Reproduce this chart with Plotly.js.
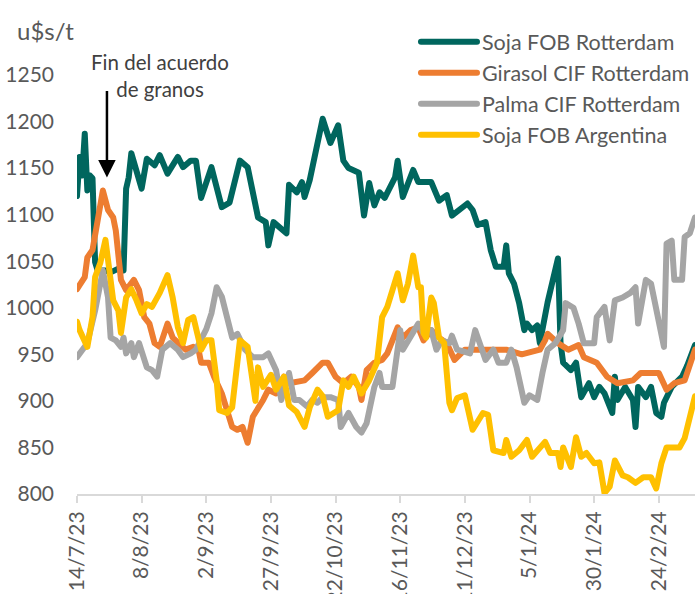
<!DOCTYPE html>
<html>
<head>
<meta charset="utf-8">
<script src="https://cdn.plot.ly/plotly-3.0.1.min.js"></script>
<style>
  body { margin: 0; padding: 0; background: #fff; }
  #chart { width: 695px; height: 594px; }
  path.js-line { stroke-linejoin: round !important; stroke-linecap: round !important; }
</style>
</head>
<body>
<div id="chart"></div>
<script>
// ---- Data ----
const seriesNames = ["Soja FOB Rotterdam", "Girasol CIF Rotterdam", "Palma CIF Rotterdam", "Soja FOB Argentina"];

const sojaRotDates = ["2023-07-14","2023-07-15","2023-07-16","2023-07-17","2023-07-18","2023-07-19","2023-07-20","2023-07-21","2023-07-22","2023-07-25","2023-07-27","2023-07-30","2023-08-01","2023-08-02","2023-08-03","2023-08-04","2023-08-08","2023-08-10","2023-08-13","2023-08-15","2023-08-18","2023-08-22","2023-08-24","2023-08-27","2023-08-29","2023-08-31","2023-09-04","2023-09-08","2023-09-11","2023-09-15","2023-09-18","2023-09-21","2023-09-22","2023-09-25","2023-09-26","2023-09-28","2023-10-03","2023-10-04","2023-10-07","2023-10-09","2023-10-10","2023-10-12","2023-10-17","2023-10-20","2023-10-23","2023-10-25","2023-10-27","2023-10-31","2023-11-02","2023-11-04","2023-11-06","2023-11-08","2023-11-10","2023-11-14","2023-11-15","2023-11-17","2023-11-21","2023-11-23","2023-11-28","2023-12-01","2023-12-04","2023-12-06","2023-12-12","2023-12-14","2023-12-16","2023-12-19","2023-12-21","2023-12-23","2023-12-26","2023-12-27","2023-12-28","2023-12-30","2024-01-01","2024-01-03","2024-01-04","2024-01-06","2024-01-08","2024-01-09","2024-01-12","2024-01-16","2024-01-17","2024-01-18","2024-01-21","2024-01-23","2024-01-24","2024-01-25","2024-01-28","2024-01-30","2024-02-01","2024-02-03","2024-02-06","2024-02-07","2024-02-08","2024-02-11","2024-02-14","2024-02-15","2024-02-16","2024-02-19","2024-02-21","2024-02-23","2024-02-25","2024-02-26","2024-02-29","2024-03-04","2024-03-06","2024-03-08","2024-03-09"];
const sojaRotVals = [1120,1162,1142,1187,1126,1142,1139,1049,1040,1040,1038,1042,1040,1128,1140,1166,1128,1160,1153,1164,1144,1162,1151,1158,1158,1118,1151,1108,1113,1158,1151,1115,1097,1092,1067,1092,1080,1132,1124,1135,1119,1137,1203,1177,1196,1158,1150,1145,1099,1134,1110,1124,1118,1140,1158,1119,1148,1135,1135,1115,1121,1099,1112,1105,1089,1092,1062,1044,1044,1067,1037,1026,1005,976,983,976,981,962,1006,1053,962,941,933,941,926,904,919,904,915,908,887,926,901,915,901,872,915,904,915,887,883,898,915,926,938,955,960];

const girasolDates = ["2023-07-14","2023-07-17","2023-07-18","2023-07-20","2023-07-22","2023-07-24","2023-07-26","2023-07-28","2023-07-29","2023-07-31","2023-08-02","2023-08-05","2023-08-07","2023-08-09","2023-08-11","2023-08-13","2023-08-15","2023-08-18","2023-08-20","2023-08-22","2023-08-25","2023-08-28","2023-08-30","2023-08-31","2023-09-03","2023-09-05","2023-09-08","2023-09-10","2023-09-12","2023-09-14","2023-09-16","2023-09-18","2023-09-20","2023-09-24","2023-09-26","2023-09-29","2023-10-02","2023-10-04","2023-10-08","2023-10-10","2023-10-13","2023-10-17","2023-10-19","2023-10-22","2023-10-25","2023-10-28","2023-10-31","2023-11-01","2023-11-03","2023-11-06","2023-11-09","2023-11-11","2023-11-15","2023-11-17","2023-11-20","2023-11-23","2023-11-25","2023-11-28","2023-12-01","2023-12-04","2023-12-07","2023-12-11","2023-12-19","2023-12-27","2024-01-02","2024-01-09","2024-01-11","2024-01-12","2024-01-16","2024-01-20","2024-01-24","2024-01-26","2024-01-31","2024-02-04","2024-02-08","2024-02-14","2024-02-17","2024-02-24","2024-02-27","2024-03-01","2024-03-05","2024-03-08","2024-03-09"];
const girasolVals = [1020,1033,1054,1062,1094,1126,1105,1097,1083,1030,1019,1030,1019,990,983,962,958,983,968,962,955,958,955,941,941,926,908,890,872,869,872,855,883,901,912,908,926,919,922,922,930,941,941,926,919,926,915,901,933,941,944,951,979,968,976,979,965,976,968,962,944,955,955,955,950,955,965,972,962,955,960,947,941,926,919,922,930,930,912,919,922,951,955];

const palmaDates = ["2023-07-14","2023-07-18","2023-07-21","2023-07-24","2023-07-26","2023-07-27","2023-07-29","2023-07-31","2023-08-01","2023-08-02","2023-08-04","2023-08-05","2023-08-07","2023-08-09","2023-08-10","2023-08-12","2023-08-14","2023-08-16","2023-08-19","2023-08-22","2023-08-24","2023-08-27","2023-08-29","2023-09-02","2023-09-04","2023-09-06","2023-09-08","2023-09-10","2023-09-12","2023-09-14","2023-09-17","2023-09-20","2023-09-24","2023-09-26","2023-09-29","2023-10-01","2023-10-04","2023-10-06","2023-10-08","2023-10-11","2023-10-13","2023-10-15","2023-10-17","2023-10-20","2023-10-23","2023-10-24","2023-10-27","2023-10-30","2023-11-01","2023-11-03","2023-11-06","2023-11-08","2023-11-09","2023-11-13","2023-11-16","2023-11-17","2023-11-20","2023-11-23","2023-11-25","2023-11-28","2023-11-30","2023-12-02","2023-12-05","2023-12-06","2023-12-08","2023-12-13","2023-12-15","2023-12-17","2023-12-19","2023-12-22","2023-12-24","2023-12-27","2023-12-29","2023-12-31","2024-01-03","2024-01-05","2024-01-08","2024-01-10","2024-01-12","2024-01-15","2024-01-18","2024-01-19","2024-01-22","2024-01-24","2024-01-26","2024-01-30","2024-01-31","2024-02-03","2024-02-05","2024-02-07","2024-02-10","2024-02-13","2024-02-15","2024-02-16","2024-02-19","2024-02-21","2024-02-23","2024-02-26","2024-02-27","2024-02-29","2024-03-01","2024-03-04","2024-03-05","2024-03-07","2024-03-09"];
const palmaVals = [947,962,997,1040,1011,968,965,958,968,951,962,947,962,947,936,933,926,955,962,955,947,951,955,977,994,1022,1012,990,968,972,955,947,947,951,933,901,930,901,901,894,901,898,904,904,901,872,887,872,866,876,915,930,915,915,976,955,968,983,973,976,955,965,962,970,955,951,976,962,944,955,941,941,955,936,898,906,901,930,955,962,976,1005,1000,983,962,962,990,1001,965,1008,1011,1016,1022,983,1030,1026,997,958,1069,1072,1030,1030,1076,1080,1097];

const sojaArgDates = ["2023-07-14","2023-07-15","2023-07-18","2023-07-20","2023-07-21","2023-07-23","2023-07-25","2023-07-26","2023-07-28","2023-07-30","2023-07-31","2023-08-02","2023-08-04","2023-08-06","2023-08-08","2023-08-10","2023-08-12","2023-08-15","2023-08-18","2023-08-20","2023-08-22","2023-08-24","2023-08-26","2023-08-28","2023-08-31","2023-09-02","2023-09-04","2023-09-06","2023-09-07","2023-09-10","2023-09-12","2023-09-15","2023-09-18","2023-09-21","2023-09-22","2023-09-24","2023-09-27","2023-09-29","2023-10-02","2023-10-04","2023-10-07","2023-10-10","2023-10-12","2023-10-15","2023-10-17","2023-10-19","2023-10-23","2023-10-25","2023-10-27","2023-10-29","2023-11-01","2023-11-04","2023-11-07","2023-11-09","2023-11-11","2023-11-13","2023-11-15","2023-11-17","2023-11-19","2023-11-21","2023-11-23","2023-11-24","2023-11-25","2023-11-26","2023-11-28","2023-11-29","2023-12-01","2023-12-03","2023-12-05","2023-12-06","2023-12-08","2023-12-11","2023-12-14","2023-12-18","2023-12-20","2023-12-22","2023-12-26","2023-12-27","2023-12-29","2024-01-01","2024-01-04","2024-01-06","2024-01-08","2024-01-11","2024-01-13","2024-01-16","2024-01-17","2024-01-18","2024-01-21","2024-01-23","2024-01-25","2024-01-27","2024-01-30","2024-02-01","2024-02-03","2024-02-05","2024-02-07","2024-02-10","2024-02-12","2024-02-15","2024-02-18","2024-02-21","2024-02-23","2024-02-25","2024-02-27","2024-03-03","2024-03-05","2024-03-07","2024-03-09"];
const sojaArgVals = [985,976,958,990,1033,1048,1073,1048,1008,997,973,1011,1020,1008,994,1004,1001,1016,1035,1011,979,962,987,990,955,965,965,922,890,887,893,965,958,900,936,915,928,912,926,895,888,872,893,912,905,883,890,922,915,926,908,922,941,990,1001,1019,1037,1008,1026,1056,1022,1022,973,968,1011,1005,968,962,898,890,903,906,869,887,885,847,844,858,840,847,858,840,847,856,844,844,829,850,829,861,840,844,833,834,801,808,836,820,818,812,818,818,806,833,850,850,860,880,905];

// Axis ticks
const yTickVals = [800, 850, 900, 950, 1000, 1050, 1100, 1150, 1200, 1250];
const xTickVals = ["2023-07-14","2023-08-08","2023-09-02","2023-09-27","2023-10-22","2023-11-16","2023-12-11","2024-01-05","2024-01-30","2024-02-24"];
const xTickText = ["14/7/23","8/8/23","2/9/23","27/9/23","22/10/23","16/11/23","11/12/23","5/1/24","30/1/24","24/2/24"];

const colors = ["#00665E", "#ED7D31", "#A5A5A5", "#FFC000"];
const FONT = "Lato, 'Open Sans', sans-serif";

const xs = [sojaRotDates, girasolDates, palmaDates, sojaArgDates];
const ys = [sojaRotVals, girasolVals, palmaVals, sojaArgVals];

const traces = seriesNames.map((name, i) => ({
  type: "scatter",
  mode: "lines",
  name: name,
  x: xs[i],
  y: ys[i],
  line: { color: colors[i], width: 6 },
  hoverinfo: "skip"
}));

const layout = {
  width: 695,
  height: 594,
  margin: { l: 77, r: 0, t: 75, b: 100, autoexpand: false },
  paper_bgcolor: "#ffffff",
  plot_bgcolor: "#ffffff",
  font: { family: FONT, color: "#595959", size: 21 },
  showlegend: true,
  legend: {
    x: 0.5485, xanchor: "left",
    y: 1.128, yanchor: "top",
    bgcolor: "rgba(0,0,0,0)",
    font: { family: FONT, size: 21.5, color: "#595959" },
    itemwidth: 56,
    tracegroupgap: 0
  },
  xaxis: {
    type: "date",
    range: ["2023-07-14", "2024-03-09"],
    tickmode: "array",
    tickvals: xTickVals,
    ticktext: xTickText,
    tickangle: -90,
    ticks: "outside",
    ticklen: 7,
    tickwidth: 2,
    tickcolor: "#D9D9D9",
    showline: true,
    linecolor: "#D9D9D9",
    linewidth: 2,
    showgrid: false,
    zeroline: false,
    tickfont: { family: FONT, size: 21, color: "#595959" }
  },
  yaxis: {
    range: [800, 1250],
    tickmode: "array",
    tickvals: yTickVals,
    ticks: "",
    showline: false,
    showgrid: false,
    zeroline: false,
    ticklabelstandoff: 22,
    tickfont: { family: FONT, size: 21, color: "#595959" }
  },
  annotations: [
    {
      xref: "paper", yref: "paper",
      x: -0.1, y: 1.107, xanchor: "left", yanchor: "middle",
      text: "u$s/t", showarrow: false,
      font: { family: FONT, size: 24, color: "#595959" }
    },
    {
      xref: "paper", yref: "paper",
      x: 0.134, y: 1.0, xanchor: "center", yanchor: "middle",
      text: "Fin del acuerdo<br>de granos", showarrow: false,
      font: { family: FONT, size: 20.5, color: "#404040" }
    },
    {
      xref: "x", yref: "y",
      x: "2023-07-25 14:00", y: 1140,
      ax: 0, ay: -88, axref: "pixel", ayref: "pixel",
      text: "", showarrow: true,
      arrowhead: 2, arrowsize: 1.4, arrowwidth: 2.5, arrowcolor: "#000000",
      standoff: 0
    }
  ]
};

Plotly.newPlot("chart", traces, layout, { staticPlot: true, displayModeBar: false });
</script>
</body>
</html>
